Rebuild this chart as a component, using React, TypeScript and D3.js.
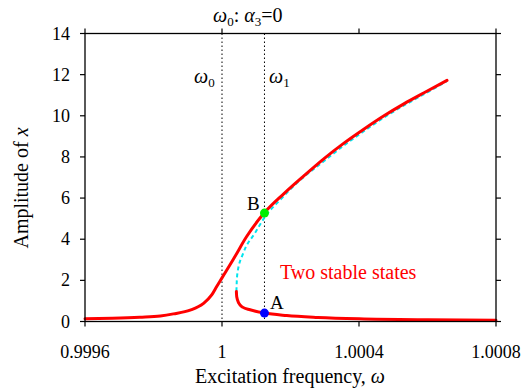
import React from "react";
import * as d3 from "d3";

const xTicks = [0.9996, 1.0, 1.0004, 1.0008];
const xTickLabels = ["0.9996", "1", "1.0004", "1.0008"];
const yTicks = [0, 2, 4, 6, 8, 10, 12, 14];

const upperW = [0.9996, 0.99968, 0.99976, 0.99982, 0.999858, 0.999907, 0.999946, 0.99997, 0.999985, 1.0, 1.000034, 1.000072, 1.000123, 1.000181, 1.000239, 1.000298, 1.000356, 1.000415, 1.000473, 1.000531, 1.00059, 1.000657];
const upperA = [0.13, 0.16, 0.21, 0.27, 0.37, 0.55, 0.88, 1.29, 1.71, 2.12, 3.05, 4.13, 5.27, 6.22, 7.08, 7.92, 8.67, 9.36, 10.0, 10.58, 11.12, 11.72];

const lowerW = [1.000042, 1.000043, 1.000049, 1.00006, 1.000082, 1.000124, 1.000189, 1.00028, 1.0004, 1.0006, 1.0008];
const lowerA = [1.46, 1.2, 0.89, 0.7, 0.57, 0.41, 0.29, 0.2, 0.13, 0.08, 0.06];

const unstW = [1.000042, 1.000043, 1.000045, 1.000062, 1.000096, 1.000126, 1.000169, 1.000218, 1.000298, 1.000356, 1.000415, 1.000473, 1.000531, 1.00059, 1.000655];
const unstA = [1.46, 1.9, 2.35, 3.32, 4.29, 5.1, 5.9, 6.72, 7.8, 8.56, 9.26, 9.92, 10.5, 11.05, 11.66];

const omega0 = 1.0;
const omega1 = 1.000124;
const pointA = 0.41;
const pointB = 5.27;

const FONT = '"Liberation Serif", "DejaVu Serif", "Noto Serif", Tinos, FreeSerif, "Times New Roman", Times, serif';

export default function App() {
  const x = d3.scaleLinear().domain([0.9996, 1.0008]).range([85, 496]);
  const y = d3.scaleLinear().domain([0, 14]).range([321.5, 33.5]);
  const line = d3
    .line<[number, number]>()
    .x((d) => x(d[0]))
    .y((d) => y(d[1]))
    .curve(d3.curveMonotoneX);
  const up = upperW.map((w, i) => [w, upperA[i]] as [number, number]);
  const lo = lowerW.map((w, i) => [w, lowerA[i]] as [number, number]);
  const un = unstW.map((w, i) => [w, unstA[i]] as [number, number]);
  const [x0, x1] = x.range();
  const [yb, yt] = y.range();
  const ts = { fontFamily: FONT };
  return (
    <svg width={522} height={392} style={{ position: "absolute", left: 0, top: 0, background: "#fff", fontFamily: FONT }}>
      {[omega0, omega1].map((w, i) => (
        <line key={i} x1={x(w)} x2={x(w)} y1={yt} y2={yb} stroke="#000" strokeWidth={1} strokeDasharray="1.5,2.5" />
      ))}
      <path d={line(un) || ""} fill="none" stroke="#00e5ee" strokeWidth={2} strokeDasharray="4,3" />
      <path d={line(up) || ""} fill="none" stroke="#ff0000" strokeWidth={3} strokeLinecap="round" />
      <path d={line(lo) || ""} fill="none" stroke="#ff0000" strokeWidth={3} strokeLinecap="round" />
      <circle cx={x(omega1)} cy={y(pointB)} r={4.5} fill="#00ee00" />
      <circle cx={x(omega1)} cy={y(pointA)} r={4.5} fill="#0000ff" />
      <rect x={x0} y={yt} width={x1 - x0} height={yb - yt} fill="none" stroke="#000" strokeWidth={1.3} />
      {xTicks.map((t, i) => (
        <g key={"x" + i}>
          <line x1={x(t)} x2={x(t)} y1={yb} y2={yb + 5} stroke="#000" strokeWidth={1.2} />
          <line x1={x(t)} x2={x(t)} y1={yt} y2={yt - 5} stroke="#000" strokeWidth={1.2} />
          <text x={x(t)} y={358} textAnchor="middle" fontSize={18} style={ts}>{xTickLabels[i]}</text>
        </g>
      ))}
      {yTicks.map((t, i) => (
        <g key={"y" + i}>
          <line x1={x0 - 5} x2={x0} y1={y(t)} y2={y(t)} stroke="#000" strokeWidth={1.2} />
          <line x1={x1} x2={x1 + 5} y1={y(t)} y2={y(t)} stroke="#000" strokeWidth={1.2} />
          <text x={70} y={y(t) + 6} textAnchor="end" fontSize={18} style={ts}>{t}</text>
        </g>
      ))}
      <text x={290} y={383} textAnchor="middle" fontSize={20} style={ts}>
        Excitation frequency, <tspan fontStyle="italic">ω</tspan>
      </text>
      <text transform="translate(28,188) rotate(-90)" textAnchor="middle" fontSize={20} style={ts}>
        Amplitude of <tspan fontStyle="italic">x</tspan>
      </text>
      <text x={213} y={22} fontSize={20} style={ts}>
        <tspan fontStyle="italic">ω</tspan>
        <tspan fontSize={13} dy={4}>0</tspan>
        <tspan dy={-4}>: </tspan>
        <tspan fontStyle="italic">α</tspan>
        <tspan fontSize={13} dy={4}>3</tspan>
        <tspan dy={-4}>=0</tspan>
      </text>
      <text x={194} y={83} fontSize={20} style={ts}>
        <tspan fontStyle="italic">ω</tspan>
        <tspan fontSize={13} dy={4}>0</tspan>
      </text>
      <text x={269} y={83} fontSize={20} style={ts}>
        <tspan fontStyle="italic">ω</tspan>
        <tspan fontSize={13} dy={4}>1</tspan>
      </text>
      <text x={247} y={210} fontSize={19} style={ts}>B</text>
      <text x={270} y={309} fontSize={19} style={ts}>A</text>
      <text x={280} y={279} fontSize={20} fill="#ff0000" style={ts}>Two stable states</text>
    </svg>
  );
}
